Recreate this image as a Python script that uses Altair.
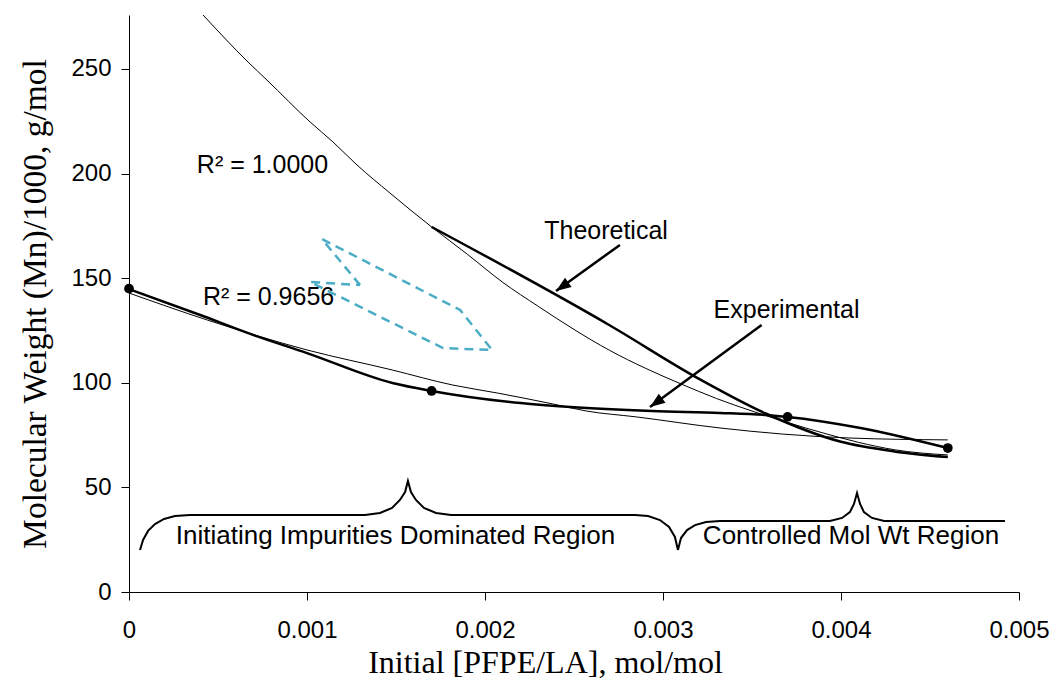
import altair as alt
import pandas as pd

# ---------------- data ----------------
# experimental measurements (markers)
exp_pts_x = [0.0, 0.0017, 0.0037, 0.0046]
exp_pts_y = [145.0, 96.1, 83.7, 68.8]

# experimental curve (thick, smoothed)
exp_line_x = [0.0, 0.0004, 0.0007, 0.0010, 0.00148, 0.0017, 0.0022, 0.00248, 0.00294, 0.00332, 0.00358, 0.0037, 0.00411, 0.0046]
exp_line_y = [144.8, 132.4, 122.8, 114.2, 99.9, 96.1, 90.3, 88.4, 86.5, 85.6, 84.6, 83.7, 78.4, 68.8]

# experimental trendline (thin), R^2 = 0.9656
exp_fit_x = [0.0, 0.00044, 0.0010, 0.00148, 0.00182, 0.00207, 0.00238, 0.00257, 0.00285, 0.00332, 0.00367, 0.00405, 0.0046]
exp_fit_y = [142.9, 130.0, 115.7, 106.1, 98.9, 95.1, 89.9, 86.5, 83.7, 78.4, 75.5, 73.6, 72.7]

# theoretical curve (thick)
theo_line_x = [0.0017, 0.0027, 0.0032, 0.00358, 0.0040, 0.0043, 0.0046]
theo_line_y = [174.5, 127.5, 102.0, 85.2, 71.8, 67.2, 64.5]

# theoretical trendline (thin), R^2 = 1.0000
theo_fit_x = [0.000416, 0.000669, 0.000775, 0.001017, 0.001146, 0.001281, 0.001466, 0.0017, 0.0019, 0.0021, 0.0023, 0.0025, 0.0027, 0.0029, 0.0031, 0.0033, 0.0035, 0.0037, 0.0039, 0.0041, 0.0043, 0.0046]
theo_fit_y = [275.8, 253.3, 244.7, 224.7, 215.1, 204.1, 190.7, 174.5, 161.5, 148.0, 136.5, 125.5, 115.5, 107.0, 99.5, 92.5, 86.5, 81.0, 76.0, 71.5, 68.0, 65.5]

# dashed cyan outline (hand-drawn shape)
shape_x = [0.001298, 0.001084, 0.00186, 0.00204, 0.001764, 0.001017, 0.001298]
shape_y = [146.7, 168.7, 134.8, 115.7, 116.6, 148.2, 146.7]

# braces
brace1_x = [0.000062, 0.000079, 0.000107, 0.000146, 0.000197, 0.000258, 0.000343, 0.001326, 0.00141, 0.001478, 0.001522, 0.001551, 0.001567, 0.001584, 0.001612, 0.001657, 0.001725, 0.001809, 0.002843, 0.002916, 0.002983, 0.003034, 0.003067, 0.003084]
brace1_y = [20.1, 24.9, 29.2, 32.5, 34.9, 36.3, 36.8, 36.8, 37.8, 40.2, 44.0, 47.8, 53.1, 47.8, 44.0, 40.2, 37.8, 36.8, 36.8, 36.3, 34.4, 31.1, 26.3, 20.1]
brace2_x = [0.003084, 0.003101, 0.003135, 0.00318, 0.003242, 0.00332, 0.003938, 0.004006, 0.00405, 0.004073, 0.00409, 0.004107, 0.004129, 0.004174, 0.004242, 0.004921]
brace2_y = [20.1, 25.8, 29.6, 32.0, 33.5, 33.9, 33.9, 35.4, 38.2, 42.1, 47.3, 42.1, 38.2, 35.4, 33.9, 33.9]

# arrows: start -> tip
arrow_names = ["Theoretical", "Experimental"]
arrow_x0 = [0.002758, 0.003554]
arrow_y0 = [165.9, 127.6]
arrow_x1 = [0.002399, 0.002927]
arrow_y1 = [143.9, 88.4]
arrow_angle = [235, 234]

# text labels
label_text = ["Theoretical", "Experimental", "R² = 1.0000", "R² = 0.9656"]
label_x = [0.00268, 0.003694, 0.00075, 0.000784]
label_y = [172.6, 134.8, 204.1, 141.0]

region_text = ["Initiating Impurities Dominated Region", "Controlled Mol Wt Region"]
region_x = [0.001497, 0.004056]
region_y = [26.8, 26.8]

x_ticks = [0, 0.001, 0.002, 0.003, 0.004, 0.005]
y_ticks = [0, 50, 100, 150, 200, 250]

# ---------------- build ----------------
XDOM = [0, 0.005]
YDOM = [0, 275.8]
SANS = "Liberation Sans"
SERIF = "Liberation Serif"

xs = alt.Scale(domain=XDOM, nice=False, zero=False)
ys = alt.Scale(domain=YDOM, nice=False, zero=False)

XT = "Initial [PFPE/LA], mol/mol"
YT = "Molecular Weight (Mn)/1000, g/mol"

x_axis = alt.Axis(values=x_ticks, format=".3~f", title=XT,
                  grid=False, domainColor="black", tickColor="black", tickSize=8,
                  labelFont=SANS, labelFontSize=24, labelColor="black", labelPadding=18,
                  labelFlush=False, titleFont=SERIF, titleFontSize=32, titleFontWeight="normal",
                  titleColor="black", titlePadding=5, titleX=416, titleAlign="center")
y_axis = alt.Axis(values=y_ticks, title=YT,
                  grid=False, domainColor="black", tickColor="black", tickSize=8,
                  labelFont=SANS, labelFontSize=24, labelColor="black", labelPadding=10,
                  titleFont=SERIF, titleFontSize=33.5, titleFontWeight="normal",
                  titleColor="black", titlePadding=18)

def xe(f="x"):
    return alt.X(f + ":Q", scale=xs, axis=x_axis, title=XT)

def ye(f="y"):
    return alt.Y(f + ":Q", scale=ys, axis=y_axis, title=YT)

def df_xy(xl, yl):
    d = pd.DataFrame({"x": xl, "y": yl})
    d["i"] = range(len(d))
    return d

theo_fit = alt.Chart(df_xy(theo_fit_x, theo_fit_y)).mark_line(
    color="black", strokeWidth=1, clip=True, interpolate="monotone").encode(x=xe(), y=ye(), order="i:Q")
exp_fit = alt.Chart(df_xy(exp_fit_x, exp_fit_y)).mark_line(
    color="black", strokeWidth=1, clip=True, interpolate="monotone").encode(x=xe(), y=ye(), order="i:Q")
theo_line = alt.Chart(df_xy(theo_line_x, theo_line_y)).mark_line(
    color="black", strokeWidth=2.5, interpolate="monotone").encode(x=xe(), y=ye(), order="i:Q")
exp_line = alt.Chart(df_xy(exp_line_x, exp_line_y)).mark_line(
    color="black", strokeWidth=2.5, interpolate="monotone").encode(x=xe(), y=ye(), order="i:Q")
exp_pts = alt.Chart(df_xy(exp_pts_x, exp_pts_y)).mark_point(
    filled=True, color="black", size=95, opacity=1, shape="circle").encode(x=xe(), y=ye())

shape = alt.Chart(df_xy(shape_x, shape_y)).mark_line(
    color="#4BACC6", strokeWidth=2.5, strokeDash=[9, 6]).encode(x=xe(), y=ye(), order="i:Q")

brace1 = alt.Chart(df_xy(brace1_x, brace1_y)).mark_line(
    color="black", strokeWidth=2).encode(x=xe(), y=ye(), order="i:Q")
brace2 = alt.Chart(df_xy(brace2_x, brace2_y)).mark_line(
    color="black", strokeWidth=2).encode(x=xe(), y=ye(), order="i:Q")

arrows_df = pd.DataFrame({"name": arrow_names, "x": arrow_x0, "y": arrow_y0,
                          "x2": arrow_x1, "y2": arrow_y1, "angle": arrow_angle})
arrow_lines = alt.Chart(arrows_df).mark_rule(color="black", strokeWidth=2.5).encode(
    x=xe(), y=ye(), x2="x2:Q", y2="y2:Q")
arrow_heads = alt.Chart(arrows_df).mark_point(
    filled=True, color="black", opacity=1, size=900,
    shape="M0,0 L0.38,1 L-0.38,1 Z").encode(
    x=xe("x2"), y=ye("y2"),
    angle=alt.Angle("angle:Q", scale=None))

labels = alt.Chart(pd.DataFrame({"t": label_text, "x": label_x, "y": label_y})).mark_text(
    font=SANS, fontSize=25, color="black", align="center", baseline="middle").encode(
    x=xe(), y=ye(), text="t:N")
regions = alt.Chart(pd.DataFrame({"t": region_text, "x": region_x, "y": region_y})).mark_text(
    font=SANS, fontSize=26, color="black", align="center", baseline="middle").encode(
    x=xe(), y=ye(), text="t:N")

chart = alt.layer(
    theo_fit, exp_fit, theo_line, exp_line, exp_pts, shape, brace1, brace2,
    arrow_lines, arrow_heads, labels, regions
).properties(
    width=890, height=577,
    autosize=alt.AutoSizeParams(type="none"),
    padding={"left": 121, "top": 7, "right": 30, "bottom": 88},
    background="white",
).configure_view(stroke=None)

chart.save("out.html", embed_options={"renderer": "svg", "actions": False})
